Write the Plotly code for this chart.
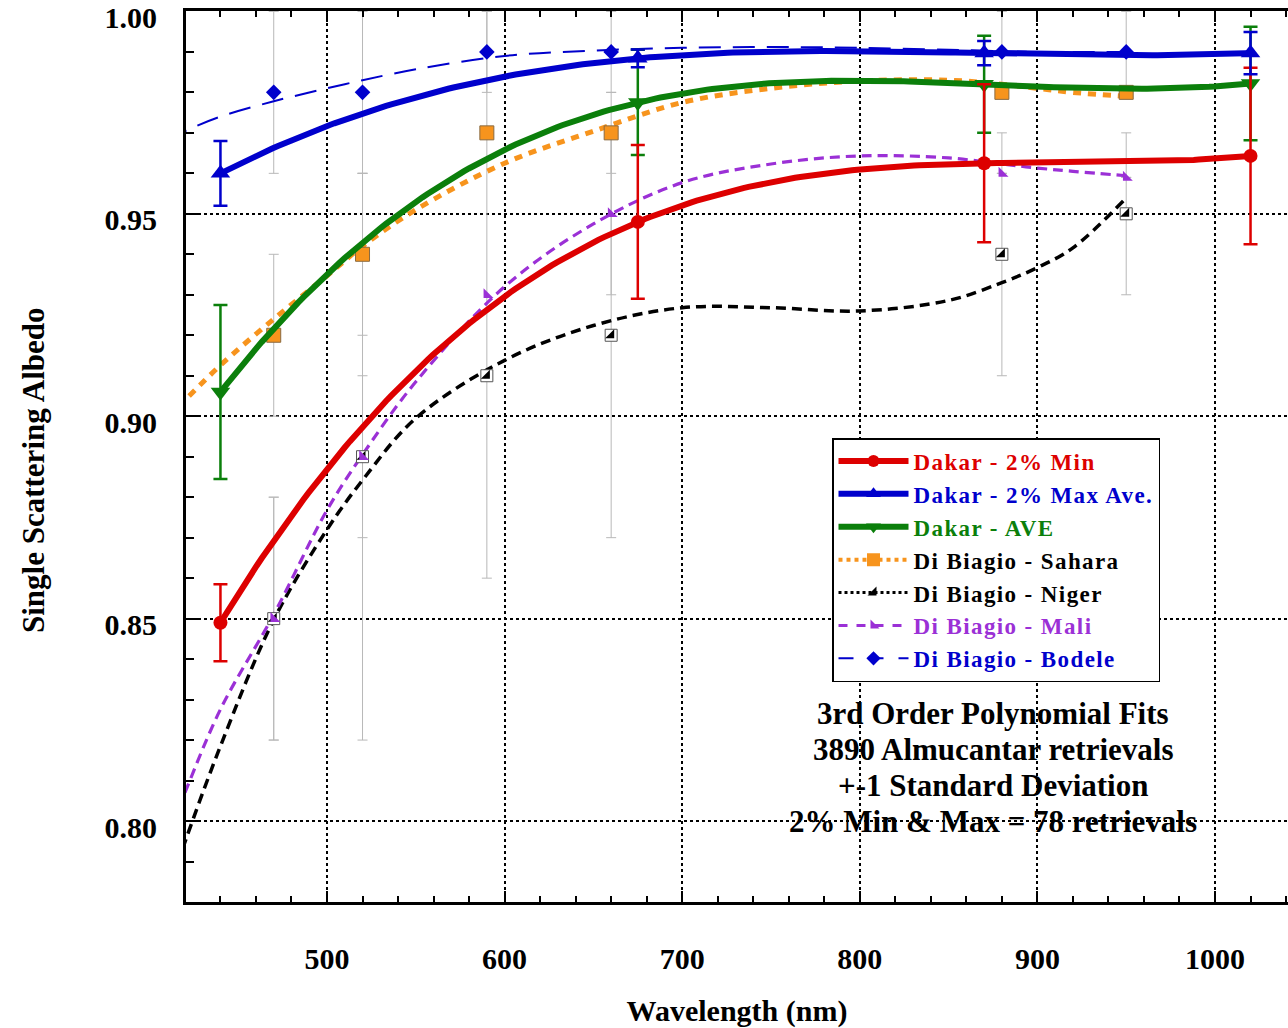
import numpy as np
import plotly.graph_objects as go

# ---------------- Dakar AERONET retrievals (440/675/870/1020 nm) ----------------
dakar_wl = [440, 675, 870, 1020]
dakar_min = [0.849, 0.948, 0.9625, 0.9643]
dakar_min_err = [0.0095, 0.019, 0.0195, 0.0218]
dakar_max = [0.960, 0.9884, 0.9897, 0.9897]
dakar_max_err = [0.008, 0.0022, 0.003, 0.0052]
dakar_ave = [0.906, 0.9775, 0.982, 0.9822]
dakar_ave_err = [0.0215, 0.013, 0.012, 0.014]

# ---------------- Di Biagio et al. laboratory values ----------------
db_wl = [470, 520, 590, 660, 880, 950]
sahara = [0.92, 0.94, 0.97, 0.97, 0.98, 0.98]
sahara_err = [0.02, 0.02, 0.0, 0.01, 0.0, 0.0]
niger = [0.85, 0.89, 0.91, 0.92, 0.94, 0.95]
niger_err = [0.03, 0.02, 0.0, 0.05, 0.03, 0.02]
mali = [0.85, 0.89, 0.93, 0.95, 0.96, 0.959]
mali_err = [0.03, 0.07, 0.07, 0.02, 0.0, 0.0]
bodele = [0.98, 0.98, 0.99, 0.99, 0.99, 0.99]
bodele_err = [0.02, 0.02, 0.01, 0.01, 0.01, 0.01]

# ---------------- Di Biagio 3rd order fit curves (sampled) ----------------
fit_db_wl = [410, 420, 440, 470, 500, 520, 550, 600, 650, 700, 750, 800, 850, 880, 900, 920, 950]
fit_sahara = [0.900, 0.904, 0.9126, 0.924, 0.9347, 0.942, 0.951, 0.9625, 0.9704, 0.9775,
              0.981, 0.9828, 0.983, 0.982, 0.981, 0.980, 0.979]
fit_niger = [0.782, 0.7948, 0.8185, 0.8497, 0.872, 0.8842, 0.8995, 0.9138, 0.9224, 0.9268,
             0.9268, 0.926, 0.9286, 0.933, 0.9367, 0.9416, 0.9539]
fit_mali = [0.796, 0.807, 0.8276, 0.851, 0.8768, 0.8905, 0.9085, 0.932, 0.9475, 0.9577,
            0.9623, 0.9643, 0.9638, 0.9623, 0.9613, 0.9605, 0.9594]
fit_bodele = [0.968, 0.9704, 0.974, 0.9778, 0.981, 0.983, 0.9857, 0.9890, 0.9903, 0.991,
              0.9912, 0.991, 0.9905, 0.9902, 0.990, 0.990, 0.990]

# Text block in the lower right
note_lines = ["3rd Order Polynomial Fits", "3890 Almucantar retrievals",
              "+-1 Standard Deviation", "2% Min &amp; Max = 78 retrievals"]

RED = "#dd0000"
BLUE = "#0000cc"
GREEN = "#0b7f0b"
ORANGE = "#f7941d"
PURPLE = "#9b30d6"
BLACK = "#000000"
GRAY = "#b8b8b8"
FONT = "Liberation Serif"

# plot-area geometry (pixels)
W, H = 1288, 1028
L, R, T, B = 186, 0, 11, 126
PW, PH = W - L - R, H - T - B


def px_x(x):
    return (x - L) / PW


def px_y(y):
    return (H - B - y) / PH


def cubic_fit(xs, ys):
    """3rd order polynomial fit of a Dakar series, evaluated over its wavelength span."""
    coef = np.polyfit(xs, ys, 3)
    xx = np.linspace(min(xs), max(xs), 200)
    return xx, np.polyval(coef, xx)


fig = go.Figure()


def gray_err(vals):
    return dict(type="data", array=vals, color=GRAY, thickness=1, width=5)


def dakar_err(vals, color):
    return dict(type="data", array=vals, color=color, thickness=2.5, width=7)


# Di Biagio error bars (thin gray), drawn first so they sit underneath
for vals, errs in [(bodele, bodele_err), (sahara, sahara_err), (niger, niger_err), (mali, mali_err)]:
    fig.add_trace(go.Scatter(x=db_wl, y=vals, mode="markers", marker=dict(size=1, opacity=0),
                             error_y=gray_err(errs), showlegend=False, hoverinfo="skip"))

# Di Biagio fit curves
fig.add_trace(go.Scatter(x=fit_db_wl, y=fit_bodele, mode="lines", line_shape="spline",
                         line=dict(color=BLUE, width=2, dash="22px,12px"), showlegend=False))
fig.add_trace(go.Scatter(x=fit_db_wl, y=fit_niger, mode="lines", line_shape="spline",
                         line=dict(color=BLACK, width=3.5, dash="10px,6px"), showlegend=False))
fig.add_trace(go.Scatter(x=fit_db_wl, y=fit_mali, mode="lines", line_shape="spline",
                         line=dict(color=PURPLE, width=3.2, dash="10px,6px"), showlegend=False))
fig.add_trace(go.Scatter(x=fit_db_wl, y=fit_sahara, mode="lines", line_shape="spline",
                         line=dict(color=ORANGE, width=5, dash="8px,7px"), showlegend=False))

# Di Biagio points
fig.add_trace(go.Scatter(x=db_wl, y=bodele, mode="markers",
                         marker=dict(symbol="diamond", size=12, color=BLUE), showlegend=False))
fig.add_trace(go.Scatter(x=db_wl, y=niger, mode="markers",
                         marker=dict(symbol="square", size=12, color="white",
                                     line=dict(color="#555555", width=1)), showlegend=False))
fig.add_trace(go.Scatter(x=db_wl, y=niger, mode="markers",
                         marker=dict(symbol="triangle-se", size=10, color=BLACK), showlegend=False))
fig.add_trace(go.Scatter(x=db_wl, y=mali, mode="markers",
                         marker=dict(symbol="triangle-sw", size=11, color=PURPLE), showlegend=False))
fig.add_trace(go.Scatter(x=db_wl, y=sahara, mode="markers",
                         marker=dict(symbol="square", size=14, color=ORANGE,
                                     line=dict(color="#8a6a40", width=1)), showlegend=False))

# Dakar fit curves
for ys, color in [(dakar_ave, GREEN), (dakar_max, BLUE), (dakar_min, RED)]:
    fx, fy = cubic_fit(dakar_wl, ys)
    fig.add_trace(go.Scatter(x=fx, y=fy, mode="lines",
                             line=dict(color=color, width=6), showlegend=False))

# Dakar retrievals with +-1 standard deviation
fig.add_trace(go.Scatter(x=dakar_wl, y=dakar_ave, mode="markers",
                         marker=dict(symbol="triangle-down", size=17, color=GREEN),
                         error_y=dakar_err(dakar_ave_err, GREEN), showlegend=False))
fig.add_trace(go.Scatter(x=dakar_wl, y=dakar_min, mode="markers",
                         marker=dict(symbol="circle", size=14, color=RED),
                         error_y=dakar_err(dakar_min_err, RED), showlegend=False))
fig.add_trace(go.Scatter(x=dakar_wl, y=dakar_max, mode="markers",
                         marker=dict(symbol="triangle-up", size=17, color=BLUE),
                         error_y=dakar_err(dakar_max_err, BLUE), showlegend=False))

# Legend entries
legend_items = [
    ("Dakar - 2% Min", RED, RED, "solid", 6, "circle", 12),
    ("Dakar - 2% Max Ave.", BLUE, BLUE, "solid", 6, "triangle-up", 13),
    ("Dakar - AVE", GREEN, GREEN, "solid", 6, "triangle-down", 13),
    ("Di Biagio - Sahara", ORANGE, BLACK, "dot", 4, "square", 13),
    ("Di Biagio - Niger", BLACK, BLACK, "dot", 3, "triangle-se", 10),
    ("Di Biagio - Mali", PURPLE, PURPLE, "dash", 3, "triangle-sw", 10),
    ("Di Biagio - Bodele", BLUE, BLUE, "longdash", 2, "diamond", 11),
]
for rank, (name, color, tcolor, dash, lw, sym, ms) in enumerate(legend_items):
    fig.add_trace(go.Scatter(
        x=[None], y=[None], mode="lines+markers",
        name=f'<span style="color:{tcolor};letter-spacing:1.4px">{name}</span>',
        line=dict(color=color, width=lw, dash=dash),
        marker=dict(symbol=sym, size=ms, color=color),
        legendrank=rank + 1, showlegend=True))

# Note block, one line per annotation for tight line spacing
for i, line in enumerate(note_lines):
    fig.add_annotation(
        text=line, xref="paper", yref="paper", x=px_x(993), y=px_y(713 + 36 * i),
        xanchor="center", yanchor="middle", showarrow=False,
        font=dict(family=FONT, size=31, color=BLACK, weight="bold"))

# y-axis title
fig.add_annotation(
    text="Single Scattering Albedo", xref="paper", yref="paper",
    x=px_x(33), y=px_y(470), xanchor="center", yanchor="middle", textangle=-90,
    showarrow=False, font=dict(family=FONT, size=31, color=BLACK, weight="bold"))

fig.update_layout(
    width=W, height=H,
    margin=dict(l=L, r=R, t=T, b=B, autoexpand=False),
    paper_bgcolor="white", plot_bgcolor="white",
    font=dict(family=FONT, color=BLACK),
    legend=dict(x=px_x(832), y=px_y(438), xanchor="left", yanchor="top",
                bgcolor="white", bordercolor=BLACK, borderwidth=1.5,
                font=dict(family=FONT, size=23, weight="bold"),
                itemwidth=70, tracegroupgap=0),
    showlegend=True,
)

fig.update_xaxes(
    range=[420.6, 1041.1], tick0=0, dtick=100, automargin=False,
    showline=True, linecolor=BLACK, linewidth=3, mirror="ticks",
    ticks="inside", ticklen=11, tickwidth=2, tickcolor=BLACK,
    showgrid=True, gridcolor=BLACK, gridwidth=1.5, griddash="dot",
    minor=dict(dtick=20, ticks="inside", ticklen=6, tickwidth=2, tickcolor=BLACK, showgrid=False),
    tickfont=dict(family=FONT, size=30, weight="bold"), ticklabelstandoff=28,
    zeroline=False,
    title=dict(text="Wavelength (nm)", font=dict(family=FONT, size=30, weight="bold"), standoff=30),
)
fig.update_yaxes(
    range=[0.78, 1.0001], tickvals=[0.80, 0.85, 0.90, 0.95, 1.00], tickformat=".2f",
    automargin=False, ticklabeloverflow="allow", ticklabelshift=6,
    showline=True, linecolor=BLACK, linewidth=3, mirror=False,
    ticks="inside", ticklen=13, tickwidth=2, tickcolor=BLACK,
    showgrid=True, gridcolor=BLACK, gridwidth=1.5, griddash="dot",
    minor=dict(dtick=0.01, ticks="inside", ticklen=8, tickwidth=2, tickcolor=BLACK, showgrid=False),
    tickfont=dict(family=FONT, size=30, weight="bold"), ticklabelstandoff=20,
    zeroline=False,
)

fig.write_html("out.html")
